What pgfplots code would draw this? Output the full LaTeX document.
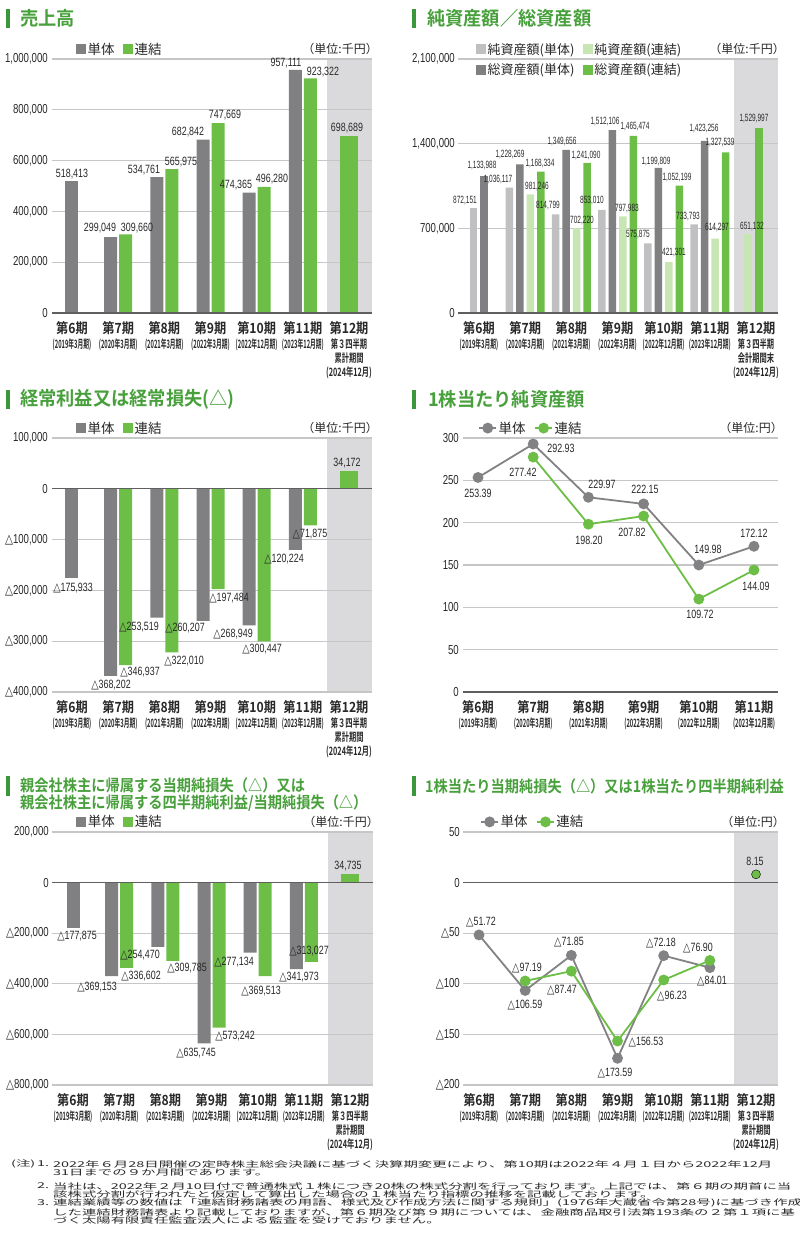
\documentclass[border=0pt]{standalone}
\usepackage{fontspec}
\usepackage{graphicx}
\usepackage{pgfplots}
\pgfplotsset{compat=1.18}
\setmainfont{Noto Sans CJK JP}
\newfontfamily\jpR{Noto Sans CJK JP}
\newfontfamily\titlef[FakeStretch=0.96]{Noto Sans CJK JP Bold}
\newfontfamily\titleg[FakeStretch=0.89]{Noto Sans CJK JP Bold}
\newfontfamily\tkf[FakeStretch=0.87]{Noto Sans CJK JP Bold}
\newfontfamily\subf[FakeStretch=0.5]{Noto Sans CJK JP Bold}
\newfontfamily\subg[FakeStretch=0.63]{Noto Sans CJK JP Bold}
\newfontfamily\numf[FakeStretch=0.74]{Liberation Sans}
\newfontfamily\numg[FakeStretch=0.62]{Liberation Sans}
\newfontfamily\trif[FakeStretch=0.8]{DejaVu Sans}
\newfontfamily\notef[FakeStretch=1.8]{Noto Sans CJK JP}

\definecolor{barGray}{RGB}{128,128,130}
\definecolor{barGreen}{RGB}{108,190,70}
\definecolor{lgray}{RGB}{192,192,194}
\definecolor{lgreen}{RGB}{200,230,180}
\definecolor{shadec}{RGB}{218,218,220}
\definecolor{gridc}{RGB}{198,198,198}
\definecolor{zeroc}{RGB}{95,95,95}
\definecolor{txt}{RGB}{40,40,40}
\definecolor{titleg}{RGB}{72,160,60}
\definecolor{titlebar}{RGB}{60,150,60}
\definecolor{lineGray}{RGB}{130,130,132}

\newcommand\tri{{\trif △}}
\newcommand\tk[2]{{\fontsize{14}{14}\tkf #1}\\{\fontsize{11.5}{11.5}\subf #2}}
\newcommand\tkk[4]{{\fontsize{14}{14}\tkf #1}\\{\fontsize{11.5}{11.5}\subg #2}\\{\fontsize{11.5}{11.5}\subg #3}\\{\fontsize{11.5}{11.5}\subg #4}}

\pgfplotsset{
  base/.style={
    scale only axis, anchor=south west, clip=false, enlargelimits=false,
    scaled y ticks=false,
    axis line style={draw=none}, major tick length=0pt, tick style={draw=none},
    ymajorgrids, grid style={draw=gridc, line width=1.1pt},
    yticklabel style={font=\fontsize{13}{13}\numf, text=txt, inner sep=0pt, xshift=-4pt},
    xticklabel style={align=center, font=\fontsize{11.5}{14.3}\selectfont, text=txt, anchor=north, inner sep=0pt, yshift=-8.5pt},
    legend style={draw=none, fill=none, inner sep=0pt, font=\fontsize{13.5}{13.5}\jpR,
      nodes={text=txt, inner sep=1.5pt}, legend columns=-1,
      /tikz/every even column/.append style={column sep=7pt}},
    legend cell align=left,
  },
  bars/.style={ybar, bar width=13pt,
    legend image code/.code={\fill[##1] (0pt,-5pt) rectangle (10pt,5pt);}},
  xlA/.style={xtick={0,1,2,3,4,5,6}, xticklabels={{\tk{第6期}{(2019年3月期)}},{\tk{第7期}{(2020年3月期)}},{\tk{第8期}{(2021年3月期)}},{\tk{第9期}{(2022年3月期)}},{\tk{第10期}{(2022年12月期)}},{\tk{第11期}{(2023年12月期)}},{\tkk{第12期}{第３四半期}{累計期間}{(2024年12月)}}}},
  xlB/.style={xtick={0,1,2,3,4,5,6}, xticklabels={{\tk{第6期}{(2019年3月期)}},{\tk{第7期}{(2020年3月期)}},{\tk{第8期}{(2021年3月期)}},{\tk{第9期}{(2022年3月期)}},{\tk{第10期}{(2022年12月期)}},{\tk{第11期}{(2023年12月期)}},{\tkk{第12期}{第３四半期}{会計期間末}{(2024年12月)}}}},
  xlC/.style={xtick={0,1,2,3,4,5}, xticklabels={{\tk{第6期}{(2019年3月期)}},{\tk{第7期}{(2020年3月期)}},{\tk{第8期}{(2021年3月期)}},{\tk{第9期}{(2022年3月期)}},{\tk{第10期}{(2022年12月期)}},{\tk{第11期}{(2023年12月期)}}}},
}
\tikzset{
  lb/.style={inner sep=0pt, text=txt, font=\fontsize{12}{12}\numf},
  lbb/.style={inner sep=0pt, text=txt, font=\fontsize{10.5}{10.5}\numg},
  ttl/.style={anchor=west, inner sep=0pt, text=titleg, font=\fontsize{19}{19}\titlef},
  ttlb/.style={anchor=west, inner sep=0pt, text=titleg, font=\fontsize{16}{16}\titleg},
  unit/.style={anchor=east, inner sep=0pt, text=txt, font=\fontsize{12}{12}\jpR},
  nt/.style={anchor=west, inner sep=0pt, text=txt, font=\fontsize{8}{8}\notef},
}
\newcommand\lbA[3]{\node[lb] at (#1pt,-#2pt) {#3};}
\newcommand\lbB[3]{\node[lbb] at (#1pt,-#2pt) {#3};}

\begin{document}
\begin{tikzpicture}
\path[use as bounding box] (0pt,0pt) rectangle (800pt,-1240pt);

% ---------------- Panel 1: 売上高
\fill[titlebar] (6pt,-9pt) rectangle (10pt,-28pt);
\node[ttl] at (20pt,-18pt) {売上高};
\node[unit] at (378pt,-49pt) {（単位:千円）};
\fill[shadec] (327pt,-59pt) rectangle (372pt,-313pt);
\begin{axis}[base, bars, xlA, at={(52pt,-313pt)}, width=320pt, height=254pt,
  xmin=-0.433, xmax=6.498, ymin=0, ymax=1000000,
  ytick={0,200000,400000,600000,800000,1000000},
  yticklabels={{0},{200,000},{400,000},{600,000},{800,000},{1,000,000}},
  legend style={at={(0.075,1.039)}, anchor=west}]
\addplot[fill=barGray, draw=none, bar shift=0pt, forget plot] coordinates {(0,518413)};
\addplot[fill=barGray, draw=none, bar shift=-7.5pt] coordinates {(1,299049)(2,534761)(3,682842)(4,474365)(5,957111)};
\addlegendentry{単体}
\addplot[fill=barGreen, draw=none, bar shift=7.5pt] coordinates {(1,309660)(2,565975)(3,747669)(4,496280)(5,923322)};
\addlegendentry{連結}
\addplot[fill=barGreen, draw=none, bar shift=0pt, bar width=18pt, forget plot] coordinates {(6,698689)};
\draw[zeroc, line width=1.3pt] (axis cs:-0.433,0) -- (axis cs:6.498,0);
\end{axis}
\lbA{72}{174}{518,413}
\lbA{100}{228}{299,049}
\lbA{137}{228}{309,660}
\lbA{144}{170}{534,761}
\lbA{181}{162}{565,975}
\lbA{188}{132}{682,842}
\lbA{225}{115}{747,669}
\lbA{236}{185}{474,365}
\lbA{272}{179}{496,280}
\lbA{286}{63}{957,111}
\lbA{323}{72}{923,322}
\lbA{347}{128}{698,689}

% ---------------- Panel 2: 純資産額／総資産額
\fill[titlebar] (412pt,-9pt) rectangle (416pt,-28pt);
\node[ttl] at (427pt,-18pt) {純資産額／総資産額};
\node[unit] at (785pt,-49pt) {（単位:千円）};
\fill[shadec] (734pt,-59pt) rectangle (778pt,-313pt);
\begin{axis}[base, bars, xlB, at={(458pt,-313pt)}, width=320pt, height=254pt,
  bar width=7.5pt,
  xmin=-0.455, xmax=6.476, ymin=0, ymax=2100000,
  ytick={0,700000,1400000,2100000},
  yticklabels={{0},{700,000},{1,400,000},{2,100,000}},
  yticklabel style={xshift=1pt},
  legend columns=2,
  legend style={at={(0.056,0.998)}, anchor=west, font=\fontsize{13}{13}\jpR, row sep=5pt}]
\addplot[fill=lgray, draw=none, bar shift=-15.75pt] coordinates {(1,1036117)(2,814799)(3,853010)(4,575875)(5,733793)};
\addlegendentry{純資産額(単体)}
\addplot[fill=lgreen, draw=none, bar shift=5.25pt] coordinates {(1,981246)(2,702220)(3,797983)(4,421301)(5,614297)};
\addlegendentry{純資産額(連結)}
\addplot[fill=barGray, draw=none, bar shift=-5.25pt] coordinates {(1,1228269)(2,1349656)(3,1512106)(4,1199809)(5,1423256)};
\addlegendentry{総資産額(単体)}
\addplot[fill=barGreen, draw=none, bar shift=15.75pt] coordinates {(1,1168334)(2,1241090)(3,1465474)(4,1052199)(5,1327539)};
\addlegendentry{総資産額(連結)}
\addplot[fill=lgray, draw=none, bar shift=-5.5pt, forget plot] coordinates {(0,872151)};
\addplot[fill=barGray, draw=none, bar shift=5pt, forget plot] coordinates {(0,1133988)};
\addplot[fill=lgreen, draw=none, bar shift=-7.8pt, forget plot] coordinates {(6,651132)};
\addplot[fill=barGreen, draw=none, bar shift=3.2pt, forget plot] coordinates {(6,1529997)};
\draw[zeroc, line width=1.3pt] (axis cs:-0.455,0) -- (axis cs:6.476,0);
\end{axis}
\lbB{465}{201}{872,151}
\lbB{482}{166}{1,133,988}
\lbB{498}{180}{1,036,117}
\lbB{510}{155}{1,228,269}
\lbB{537}{187}{981,246}
\lbB{540}{164}{1,168,334}
\lbB{548}{206}{814,799}
\lbB{562}{142}{1,349,656}
\lbB{582}{221}{702,220}
\lbB{586}{156}{1,241,090}
\lbB{592}{201}{853,010}
\lbB{605}{122}{1,512,106}
\lbB{627}{209}{797,983}
\lbB{635}{127}{1,465,474}
\lbB{638}{235}{575,875}
\lbB{656}{162}{1,199,809}
\lbB{674}{253}{421,301}
\lbB{677}{178}{1,052,199}
\lbB{688}{217}{733,793}
\lbB{704}{129}{1,423,256}
\lbB{717}{228}{614,297}
\lbB{720}{143}{1,327,539}
\lbB{752}{227}{651,132}
\lbB{754}{119}{1,529,997}

% ---------------- Panel 3: 経常利益又は経常損失
\fill[titlebar] (6pt,-390pt) rectangle (10pt,-409pt);
\node[ttl] at (20pt,-399pt) {経常利益又は経常損失(△)};
\node[unit] at (378pt,-428pt) {（単位:千円）};
\fill[shadec] (327pt,-438pt) rectangle (372pt,-692pt);
\begin{axis}[base, bars, xlA, at={(52pt,-692pt)}, width=320pt, height=254pt,
  xmin=-0.433, xmax=6.498, ymin=-400000, ymax=100000,
  ytick={-400000,-300000,-200000,-100000,0,100000},
  yticklabels={{\tri400,000},{\tri300,000},{\tri200,000},{\tri100,000},{0},{100,000}},
  legend style={at={(0.075,1.039)}, anchor=west}]
\addplot[fill=barGray, draw=none, bar shift=0pt, forget plot] coordinates {(0,-175933)};
\addplot[fill=barGray, draw=none, bar shift=-7.5pt] coordinates {(1,-368202)(2,-253519)(3,-260207)(4,-268949)(5,-120224)};
\addlegendentry{単体}
\addplot[fill=barGreen, draw=none, bar shift=7.5pt] coordinates {(1,-346937)(2,-322010)(3,-197484)(4,-300447)(5,-71875)};
\addlegendentry{連結}
\addplot[fill=barGreen, draw=none, bar shift=0pt, bar width=18pt, forget plot] coordinates {(6,34172)};
\draw[zeroc, line width=1.3pt] (axis cs:-0.433,0) -- (axis cs:6.498,0);
\end{axis}
\lbA{73}{588}{\tri175,933}
\lbA{111}{685}{\tri368,202}
\lbA{140}{672}{\tri346,937}
\lbA{139}{627}{\tri253,519}
\lbA{185}{628}{\tri260,207}
\lbA{184}{661}{\tri322,010}
\lbA{229}{598}{\tri197,484}
\lbA{233}{634}{\tri268,949}
\lbA{262}{649}{\tri300,447}
\lbA{284}{559}{\tri120,224}
\lbA{310}{534}{\tri71,875}
\lbA{347}{463}{34,172}

% ---------------- Panel 4: 1株当たり純資産額
\fill[titlebar] (412pt,-390pt) rectangle (416pt,-409pt);
\node[ttl] at (428pt,-399pt) {1株当たり純資産額};
\node[unit] at (783pt,-428pt) {（単位:円）};
\begin{axis}[base, xlC, at={(463pt,-692pt)}, width=315pt, height=254pt,
  xmin=-0.272, xmax=5.435, ymin=0, ymax=300,
  ytick={0,50,100,150,200,250,300},
  yticklabels={{0},{50},{100},{150},{200},{250},{300}},
  legend style={at={(0.048,1.039)}, anchor=west}]
\draw[zeroc, line width=1.3pt] (axis cs:-0.272,0) -- (axis cs:5.435,0);
\addplot[draw=lineGray, line width=1.8pt, mark=*, mark size=4.5pt, mark options={fill=lineGray, draw=none}] coordinates {(0,253.39)(1,292.93)(2,229.97)(3,222.15)(4,149.98)(5,172.12)};
\addlegendentry{単体}
\addplot[draw=barGreen, line width=1.8pt, mark=*, mark size=4.5pt, mark options={fill=barGreen, draw=none}] coordinates {(1,277.42)(2,198.20)(3,207.82)(4,109.72)(5,144.09)};
\addlegendentry{連結}
\end{axis}
\lbA{478}{493}{253.39}
\lbA{523}{472}{277.42}
\lbA{561}{448}{292.93}
\lbA{602}{484}{229.97}
\lbA{589}{540}{198.20}
\lbA{645}{489}{222.15}
\lbA{632}{532}{207.82}
\lbA{708}{549}{149.98}
\lbA{700}{614}{109.72}
\lbA{754}{533}{172.12}
\lbA{756}{586}{144.09}

% ---------------- Panel 5: 親会社株主に帰属する...
\fill[titlebar] (6pt,-776pt) rectangle (10pt,-796pt);
\node[ttlb] at (20pt,-785pt) {親会社株主に帰属する当期純損失（△）又は};
\node[ttlb] at (20pt,-803pt) {親会社株主に帰属する四半期純利益/当期純損失（△）};
\node[unit] at (379pt,-822pt) {（単位:千円）};
\fill[shadec] (328pt,-832pt) rectangle (373pt,-1085pt);
\begin{axis}[base, bars, xlA, at={(52pt,-1085pt)}, width=321pt, height=253pt,
  xmin=-0.455, xmax=6.498, ymin=-800000, ymax=200000,
  ytick={-800000,-600000,-400000,-200000,0,200000},
  yticklabels={{\tri800,000},{\tri600,000},{\tri400,000},{\tri200,000},{0},{200,000}},
  yticklabel style={xshift=1pt},
  legend style={at={(0.075,1.04)}, anchor=west}]
\addplot[fill=barGray, draw=none, bar shift=0pt, forget plot] coordinates {(0,-177875)};
\addplot[fill=barGray, draw=none, bar shift=-7.5pt] coordinates {(1,-369153)(2,-254470)(3,-635745)(4,-277134)(5,-341973)};
\addlegendentry{単体}
\addplot[fill=barGreen, draw=none, bar shift=7.5pt] coordinates {(1,-336602)(2,-309785)(3,-573242)(4,-369513)(5,-313027)};
\addlegendentry{連結}
\addplot[fill=barGreen, draw=none, bar shift=0pt, bar width=18pt, forget plot] coordinates {(6,34735)};
\draw[zeroc, line width=1.3pt] (axis cs:-0.455,0) -- (axis cs:6.498,0);
\end{axis}
\lbA{77}{936}{\tri177,875}
\lbA{97}{987}{\tri369,153}
\lbA{140}{955}{\tri254,470}
\lbA{141}{976}{\tri336,602}
\lbA{187}{968}{\tri309,785}
\lbA{196}{1053}{\tri635,745}
\lbA{234}{962}{\tri277,134}
\lbA{235}{1036}{\tri573,242}
\lbA{261}{991}{\tri369,513}
\lbA{309}{951}{\tri313,027}
\lbA{299}{977}{\tri341,973}
\lbA{348}{866}{34,735}

% ---------------- Panel 6: 1株当たり当期純損失...
\fill[titlebar] (412pt,-776pt) rectangle (416pt,-796pt);
\node[ttlb] at (425pt,-786pt) {1株当たり当期純損失（△）又は1株当たり四半期純利益};
\node[unit] at (785pt,-822pt) {（単位:円）};
\fill[shadec] (734pt,-832pt) rectangle (778pt,-1085pt);
\begin{axis}[base, xlA, at={(463pt,-1085pt)}, width=315pt, height=253pt,
  xmin=-0.347, xmax=6.476, ymin=-200, ymax=50,
  ytick={-200,-150,-100,-50,0,50},
  yticklabels={{\tri200},{\tri150},{\tri100},{\tri50},{0},{50}},
  yticklabel style={xshift=1pt},
  legend style={at={(0.054,1.04)}, anchor=west}]
\draw[zeroc, line width=1.3pt] (axis cs:-0.347,0) -- (axis cs:6.476,0);
\addplot[draw=lineGray, line width=1.8pt, mark=*, mark size=4.5pt, mark options={fill=lineGray, draw=none}] coordinates {(0,-51.72)(1,-106.59)(2,-71.85)(3,-173.59)(4,-72.18)(5,-84.01)};
\addlegendentry{単体}
\addplot[draw=barGreen, line width=1.8pt, mark=*, mark size=4.5pt, mark options={fill=barGreen, draw=none}] coordinates {(1,-97.19)(2,-87.47)(3,-156.53)(4,-96.23)(5,-76.90)};
\addlegendentry{連結}
\addplot[only marks, mark=*, mark size=4.5pt, mark options={fill=barGreen, draw=none}, forget plot] coordinates {(6,8.15)};
\end{axis}
\lbA{481}{922}{\tri51.72}
\lbA{527}{968}{\tri97.19}
\lbA{525}{1005}{\tri106.59}
\lbA{569}{942}{\tri71.85}
\lbA{562}{990}{\tri87.47}
\lbA{646}{1042}{\tri156.53}
\lbA{615}{1073}{\tri173.59}
\lbA{661}{943}{\tri72.18}
\lbA{672}{996}{\tri96.23}
\lbA{698}{948}{\tri76.90}
\lbA{712}{981}{\tri84.01}
\lbA{755}{861}{8.15}

% ---------------- Notes
\node[nt] at (11pt,-1164pt) {(注)};
\node[nt] at (37pt,-1164pt) {1.};
\node[nt] at (53pt,-1164pt) {2022年６月28日開催の定時株主総会決議に基づく決算期変更により、第10期は2022年４月１日から2022年12月};
\node[nt] at (53pt,-1173pt) {31日までの９か月間であります。};
\node[nt] at (37pt,-1186pt) {2.};
\node[nt] at (53pt,-1186pt) {当社は、2022年２月10日付で普通株式１株につき20株の株式分割を行っております。上記では、第６期の期首に当};
\node[nt] at (53pt,-1194pt) {該株式分割が行われたと仮定して算出した場合の１株当たり指標の推移を記載しております。};
\node[nt] at (37pt,-1203pt) {3.};
\node[nt] at (53pt,-1203pt) {連結業績等の数値は「連結財務諸表の用語、様式及び作成方法に関する規則」(1976年大蔵省令第28号)に基づき作成};
\node[nt] at (53pt,-1212pt) {した連結財務諸表より記載しておりますが、第６期及び第９期については、金融商品取引法第193条の２第１項に基};
\node[nt] at (53pt,-1220pt) {づく太陽有限責任監査法人による監査を受けておりません。};
\end{tikzpicture}
\end{document}
